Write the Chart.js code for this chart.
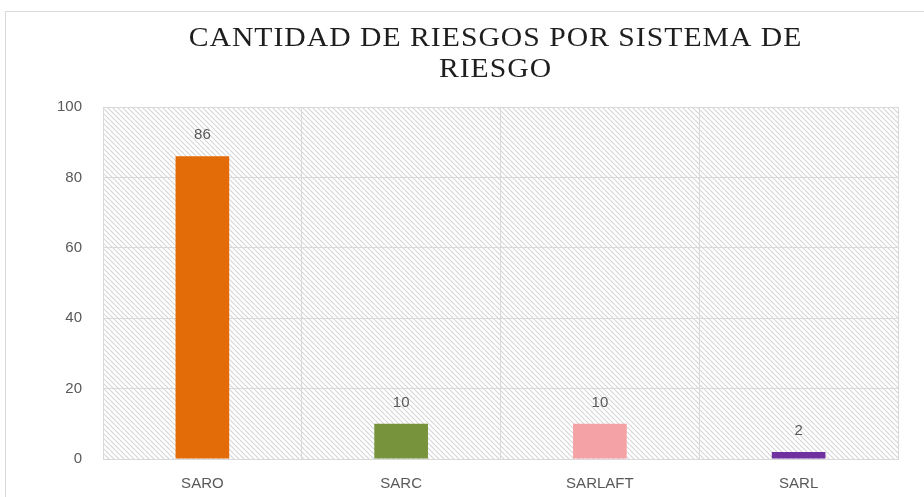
<!DOCTYPE html>
<html>
<head>
<meta charset="utf-8">
<script src="https://cdn.jsdelivr.net/npm/chart.js@4.4.1/dist/chart.umd.min.js"></script>
<style>
  html, body { margin: 0; padding: 0; background: #ffffff; }
  #wrap { position: relative; width: 924px; height: 497px; overflow: hidden; }
  #frame { position: absolute; left: 5px; top: 11px; width: 940px; height: 520px; border: 1px solid #d9d9d9; box-sizing: border-box; }
  canvas { position: absolute; left: 0; top: 0; }
</style>
</head>
<body>
<div id="wrap">
  <div id="frame"></div>
  <canvas id="c" width="924" height="497"></canvas>
</div>
<script>
const categories = ["SARO", "SARC", "SARLAFT", "SARL"];
const values = [86, 10, 10, 2];
const barColors = ["#E36C09", "#77933C", "#F4A2A6", "#7030A0"];
const yTicks = [0, 20, 40, 60, 80, 100];
const titleLines = ["CANTIDAD DE RIESGOS POR SISTEMA DE", "RIESGO"];

function makeHatch(ctx) {
  const s = 5;
  const p = document.createElement('canvas');
  p.width = s; p.height = s;
  const g = p.getContext('2d');
  g.fillStyle = '#ffffff';
  g.fillRect(0, 0, s, s);
  g.strokeStyle = '#d4d4d4';
  g.lineWidth = 1.1;
  g.beginPath();
  for (let k = -1; k <= 1; k++) {
    g.moveTo(k * s, 0);
    g.lineTo(k * s + s, s);
  }
  g.stroke();
  return ctx.createPattern(p, 'repeat');
}

const hatchPlugin = {
  id: 'hatch',
  beforeDraw(chart) {
    const a = chart.chartArea;
    const ctx = chart.ctx;
    ctx.save();
    ctx.fillStyle = makeHatch(ctx);
    ctx.fillRect(a.left, a.top, a.right - a.left, a.bottom - a.top);
    ctx.restore();
  }
};

const titlePlugin = {
  id: 'ctitle',
  afterDraw(chart) {
    const a = chart.chartArea;
    const ctx = chart.ctx;
    const cx = (a.left + a.right) / 2 - 5;
    ctx.save();
    ctx.fillStyle = '#1e1e1e';
    ctx.font = '27px "Liberation Serif", "DejaVu Serif", serif';
    ctx.letterSpacing = '0.9px';
    ctx.textAlign = 'center';
    ctx.textBaseline = 'middle';
    titleLines.forEach((t, i) => {
      ctx.save();
      ctx.translate(cx, 39 + i * 31);
      ctx.scale(1.1, 1);
      ctx.fillText(t, 0, 0);
      ctx.restore();
    });
    ctx.restore();
  }
};

const labelPlugin = {
  id: 'vlabels',
  afterDatasetsDraw(chart) {
    const ctx = chart.ctx;
    const meta = chart.getDatasetMeta(0);
    ctx.save();
    ctx.fillStyle = '#595959';
    ctx.font = '15px "Liberation Sans", Arial, sans-serif';
    ctx.textAlign = 'center';
    ctx.textBaseline = 'middle';
    meta.data.forEach((el, i) => {
      ctx.fillText(String(values[i]), el.x, el.y - 21);
    });
    ctx.restore();
  }
};

new Chart(document.getElementById('c'), {
  type: 'bar',
  data: {
    labels: categories,
    datasets: [{
      data: values,
      backgroundColor: barColors,
      borderWidth: 0,
      barPercentage: 0.27,
      categoryPercentage: 1.0
    }]
  },
  options: {
    responsive: false,
    animation: false,
    devicePixelRatio: 1,
    layout: { padding: { top: 107, right: 26, bottom: 0, left: 0 } },
    plugins: {
      legend: { display: false },
      tooltip: { enabled: false },
      title: { display: false }
    },
    scales: {
      x: {
        grid: { color: '#d9d9d9', lineWidth: 1, drawTicks: false, offset: true },
        border: { color: '#d9d9d9', width: 1 },
        ticks: { color: '#595959', font: { family: '"Liberation Sans", Arial, sans-serif', size: 15 }, padding: 16 },
        afterFit(scale) { scale.height = 38; }
      },
      y: {
        min: 0, max: 100,
        afterBuildTicks(scale) { scale.ticks = yTicks.map(v => ({ value: v })); },
        grid: { color: '#d9d9d9', lineWidth: 1, drawTicks: false },
        border: { display: false },
        ticks: { color: '#595959', font: { family: '"Liberation Sans", Arial, sans-serif', size: 15 }, padding: 21 },
        afterFit(scale) { scale.width = 103; }
      }
    }
  },
  plugins: [hatchPlugin, labelPlugin, titlePlugin]
});
</script>
</body>
</html>
